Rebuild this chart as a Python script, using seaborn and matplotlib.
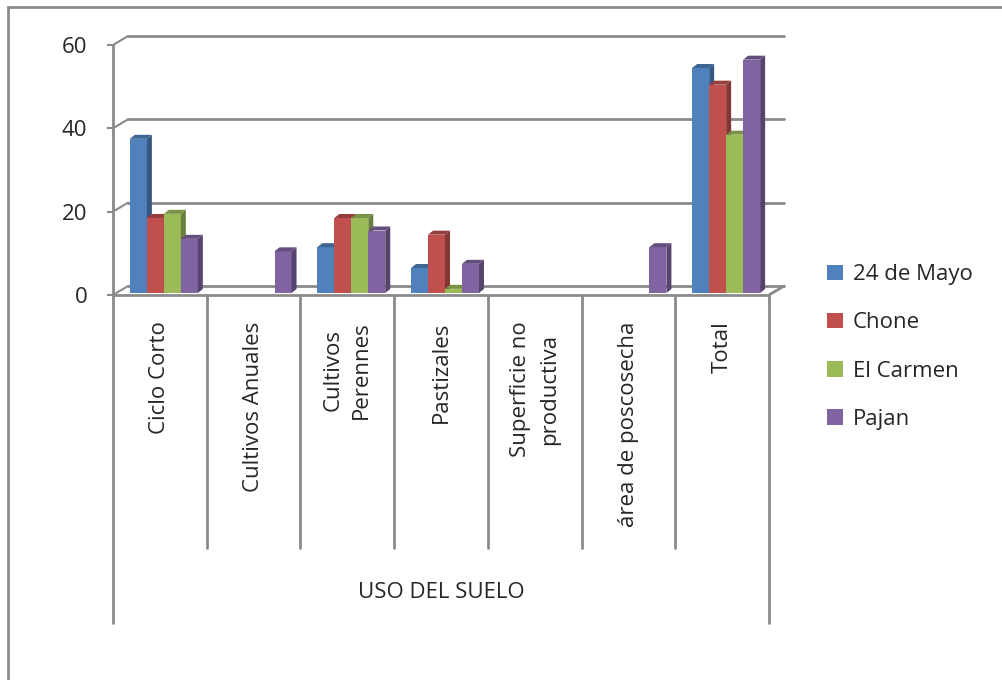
import numpy as np
import pandas as pd
import matplotlib
matplotlib.use("Agg")
import matplotlib.pyplot as plt
from matplotlib.patches import Polygon, Rectangle
import seaborn as sns

# ---- data -------------------------------------------------------------
categorias = ["Ciclo Corto", "Cultivos Anuales", "Cultivos\nPerennes", "Pastizales",
              "Superficie no\nproductiva", "área de poscosecha", "Total"]
municipios = ["24 de Mayo", "Chone", "El Carmen", "Pajan"]
mayo_24 = [37, 0, 11, 6, 0, 0, 54]
chone = [18, 0, 18, 14, 0, 0, 50]
el_carmen = [19, 0, 18, 1, 0, 0, 38]
pajan = [13, 10, 15, 7, 0, 11, 56]
y_ticks = [0, 20, 40, 60]
titulo_eje = "USO DEL SUELO"

colores = ["#4F81BD", "#C0504D", "#9BBB59", "#8064A2"]
gris = "#8A8A8A"

df = pd.DataFrame({
    "uso": categorias * 4,
    "municipio": np.repeat(municipios, len(categorias)),
    "valor": mayo_24 + chone + el_carmen + pajan,
})

# ---- figure layout (pixels) ------------------------------------------
W, H = 1002, 680
AX_L, AX_R, AX_T, AX_B = 113, 769, 45, 295

sns.set_style("white")
plt.rcParams["font.family"] = ["Open Sans", "DejaVu Sans"]

fig = plt.figure(figsize=(W / 100, H / 100), dpi=100)
ax = fig.add_axes([AX_L / W, 1 - AX_B / H, (AX_R - AX_L) / W, (AX_B - AX_T) / H])

sns.barplot(data=df, x="uso", y="valor", hue="municipio", order=categorias,
            hue_order=municipios, palette=colores, width=0.725, saturation=1,
            linewidth=0, ax=ax)

ax.set_xlim(-0.5, 6.5)
ax.set_ylim(0, 60)

# pixel -> data conversion factors
px_x = 7 / (AX_R - AX_L)
px_y = 60 / (AX_B - AX_T)

def shade(c, f):
    r, g, b = matplotlib.colors.to_rgb(c)
    return (r * f, g * f, b * f)

# pseudo-3D faces on every bar
dx, dy = 5 * px_x, 4 * px_y
for i, (cont, col) in enumerate(zip(ax.containers, colores)):
    for bar in cont:
        h = bar.get_height()
        if not h or h <= 0:
            bar.set_visible(False)
            continue
        bar.set_x(bar.get_x() + 4 * px_x)
        bar.set_y(2 * px_y)
        z = 3 + i * 0.1
        bar.set_zorder(z)
        bar.set_clip_on(False)
        x0, w, y0 = bar.get_x(), bar.get_width(), bar.get_y()
        y1 = y0 + h
        side = Polygon([(x0 + w, y0), (x0 + w + dx, y0 + dy), (x0 + w + dx, y1 + dy), (x0 + w, y1)],
                       closed=True, fc=shade(col, 0.68), ec="none", zorder=z, clip_on=False)
        top = Polygon([(x0, y1), (x0 + dx, y1 + dy), (x0 + w + dx, y1 + dy), (x0 + w, y1)],
                      closed=True, fc=shade(col, 0.78), ec="none", zorder=z, clip_on=False)
        ax.add_patch(side)
        ax.add_patch(top)

# back wall gridlines, floor and depth diagonals
dxb, dyb = 15 * px_x, 9 * px_y
for v in y_ticks:
    ax.plot([-0.5 + dxb, 6.5 + dxb], [v + dyb, v + dyb], color=gris, lw=2, zorder=1, clip_on=False)
    ax.plot([-0.5, -0.5 + dxb], [v, v + dyb], color=gris, lw=1.5, zorder=1, clip_on=False)
ax.plot([-0.5, 6.5], [0, 0], color=gris, lw=2, zorder=2, clip_on=False)
ax.plot([6.5, 6.5 + dxb], [0, dyb], color=gris, lw=2, zorder=2, clip_on=False)

# axes styling
for s in ["top", "right", "bottom"]:
    ax.spines[s].set_visible(False)
ax.spines["left"].set_color(gris)
ax.spines["left"].set_linewidth(2)
ax.set_yticks(y_ticks)
ax.tick_params(axis="y", length=4.5, width=1.5, color=gris, pad=14, labelsize=16, direction="out", left=True)
ax.set_xticks(range(len(categorias)))
ax.set_xticklabels(categorias, rotation=90, va="top", ha="center", fontsize=16,
                   linespacing=1.5, multialignment="center")
ax.tick_params(axis="x", length=0, pad=19)
ax.set_xlabel("")
ax.set_ylabel("")

# multi-level category axis separators
y_inner = -(548 - AX_B) * px_y
y_outer = -(623 - AX_B) * px_y
for b in np.arange(-0.5, 7.0, 1.0):
    yb = y_outer if b in (-0.5, 6.5) else y_inner
    ax.plot([b, b], [0, yb], color=gris, lw=2, zorder=1, clip_on=False)
ax.text(3, -(592 - AX_B) * px_y, titulo_eje, ha="center", va="center", fontsize=16)

# legend
handles, labels = ax.get_legend_handles_labels()
ax.get_legend().remove()
fig.legend(handles, labels, loc="center left", bbox_to_anchor=(827 / W, 1 - 347 / H),
           frameon=False, fontsize=16, handlelength=0.7, handleheight=0.7,
           handletextpad=0.45, labelspacing=1.22, borderpad=0, borderaxespad=0)

# chart frame
fig.add_artist(Rectangle((8 / W, -0.05), 1.1, 1 - 7 / H + 0.05, transform=fig.transFigure,
                         fill=False, ec=gris, lw=2))

fig.savefig("out.png", dpi=100)
